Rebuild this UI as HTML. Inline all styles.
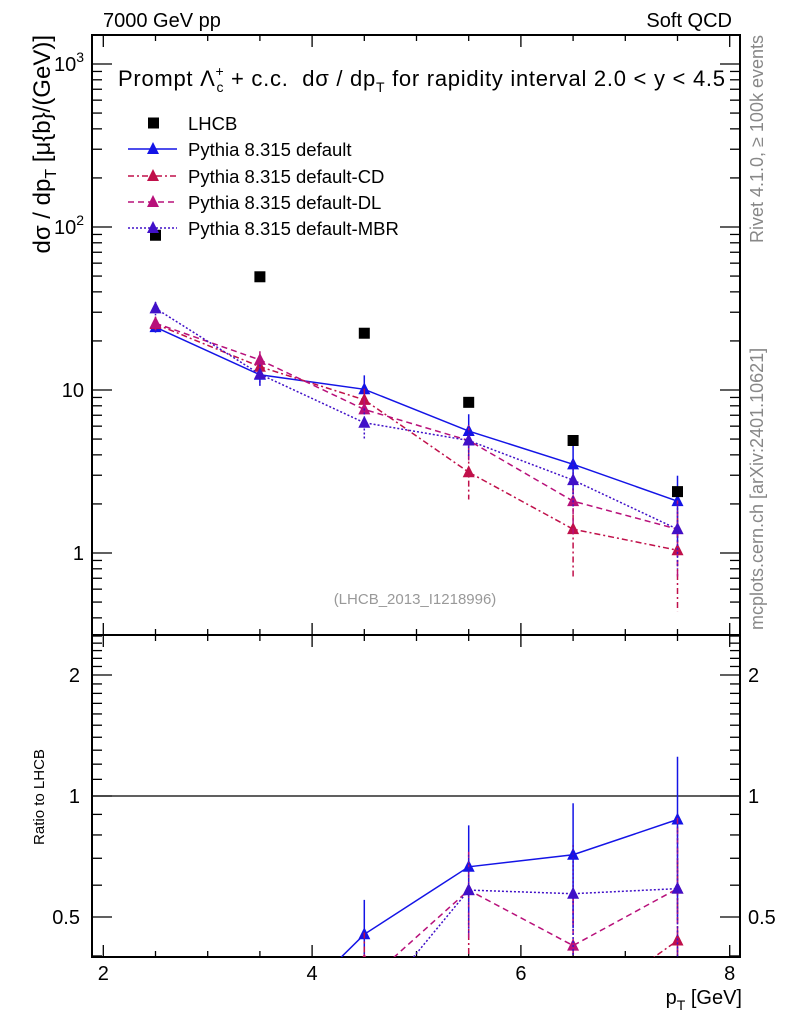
<!DOCTYPE html>
<html><head><meta charset="utf-8"><style>
html,body{margin:0;background:#fff;overflow:hidden;width:786px;height:1024px;}
svg{display:block;font-family:"Liberation Sans",sans-serif;}
</style></head><body>
<svg id="chart" width="786" height="1024" viewBox="0 0 786 1024" xmlns="http://www.w3.org/2000/svg">
<text x="103" y="27" font-size="20">7000 GeV pp</text>
<text x="732" y="27" font-size="20" text-anchor="end">Soft QCD</text>
<text x="118" y="86" font-size="22" xml:space="preserve" textLength="607">Prompt Λ<tspan font-size="14" dy="-10">+</tspan><tspan font-size="14" dx="-8" dy="16">c</tspan><tspan dy="-6"> + c.c.  dσ / dp</tspan><tspan font-size="14" dy="6">T</tspan><tspan dy="-6"> for rapidity interval 2.0 &lt; y &lt; 4.5</tspan></text>
<text transform="translate(50,35) rotate(-90)" font-size="24" text-anchor="end">dσ / dp<tspan font-size="16" dy="6">T</tspan><tspan dy="-6">  [μ{b}/(GeV)]</tspan></text>
<text transform="translate(44,797) rotate(-90)" font-size="15" text-anchor="middle">Ratio to LHCB</text>
<text x="742" y="1004" font-size="20" text-anchor="end">p<tspan font-size="14" dy="6">T</tspan><tspan dy="-6"> [GeV]</tspan></text>
<text transform="translate(763,35) rotate(-90)" font-size="18" fill="#888" text-anchor="end">Rivet 4.1.0, ≥ 100k events</text>
<text transform="translate(763,630) rotate(-90)" font-size="18" fill="#888">mcplots.cern.ch [arXiv:2401.10621]</text>
<text x="415" y="604" font-size="15" fill="#999" text-anchor="middle">(LHCB_2013_I1218996)</text>
<g id="axes"></g>
<g id="marks"></g>
<g id="legend"></g>
</svg>
<script>
const xCats = [2.5, 3.5, 4.5, 5.5, 6.5, 7.5];
const lhcb = [89, 49.5, 22.3, 8.4, 4.9, 2.38];
const pyDefault = [24.3, 12.4, 10.1, 5.6, 3.5, 2.08];
const pyDefaultErr = [1.8, 1.8, 2.2, 1.5, 1.2, 0.9];
const pyCD = [25.4, 13.9, 8.7, 3.13, 1.40, 1.04];
const pyCDErr = [2.5, 2.0, 1.5, 1.0, 0.7, 0.6];
const pyDL = [25.7, 15.3, 7.6, 4.9, 2.08, 1.40];
const pyDLErr = [2.5, 2.0, 1.4, 1.2, 0.8, 0.7];
const pyMBR = [31.7, 12.5, 6.3, 4.9, 2.8, 1.40];
const pyMBRErr = [3.0, 1.8, 1.4, 1.1, 0.9, 0.6];
const mainTickLabels = ["1", "10", "10²", "10³"];
const ratioTickVals = [0.5, 1, 2];
const xTickLabels = [2, 4, 6, 8];

const NS = "http://www.w3.org/2000/svg";
const L = 92, R = 740, MT = 35, MB = 635, RT = 635, RB = 957;
function X(v){ return 155.5 + (v - 2.5) * 104.4; }
function Y(v){ return 553 - 163 * Math.log10(v); }
function YR(r){ return 796 - 402 * Math.log10(r); }
function mk(tag, attrs, parent){ const e = document.createElementNS(NS, tag); for (const k in attrs) e.setAttribute(k, attrs[k]); parent.appendChild(e); return e; }
const axes = document.getElementById('axes'), marks = document.getElementById('marks'), legend = document.getElementById('legend');

let f1 = mk('rect', {x:L, y:MT, width:R-L, height:MB-MT, fill:'none', stroke:'#000', 'stroke-width':2}, axes);


let f2 = mk('rect', {x:L, y:RT, width:R-L, height:RB-RT, fill:'none', stroke:'#000', 'stroke-width':2}, axes);



for (let v = 2; v <= 8.001; v += 0.5) {
  const x = X(v), major = Math.abs(v - Math.round(v/2)*2) < 1e-6;
  const len = major ? 12 : 6;
  for (const [y0, d] of [[MB, -1], [MT, 1], [RB, -1], [RT, 1]]) {
    const t = mk('line', {x1:x, x2:x, y1:y0, y2:y0 + d*len, stroke:'#000', 'stroke-width':1.3}, axes);
    
    
  }
}
xTickLabels.forEach(v => {
  const t = mk('text', {x:X(v), y:980, 'font-size':20, 'text-anchor':'middle'}, axes);
  t.textContent = v;
  
  
});

for (let d = -1; d <= 3; d++) {
  for (let m = 1; m <= 9; m++) {
    const v = m * Math.pow(10, d), y = Y(v);
    if (y < MT || y > MB) continue;
    const len = m === 1 ? 20 : 10;
    for (const [x0, s] of [[L, 1], [R, -1]]) {
      const t = mk('line', {x1:x0, x2:x0 + s*len, y1:y, y2:y, stroke:'#000', 'stroke-width':1.3}, axes);
      
      
    }
  }
}
mainTickLabels.forEach((lab, i) => {
  const t = mk('text', {x:84, y:Y(Math.pow(10, i)) + 7, 'font-size':20, 'text-anchor':'end'}, axes);
  if (i >= 2) { t.textContent = '10'; const s = mk('tspan', {'font-size':14, dy:-9}, t); s.textContent = String(i); }
  else t.textContent = lab;
  
  
});

for (let v = 0.4; v <= 2.5001; v += 0.1) {
  const y = YR(v); if (y < RT || y > RB) continue;
  const isMaj = [0.5, 1, 2].some(q => Math.abs(q - v) < 1e-6);
  const len = isMaj ? 20 : 10;
  for (const [x0, s] of [[L, 1], [R, -1]]) {
    const t = mk('line', {x1:x0, x2:x0 + s*len, y1:y, y2:y, stroke:'#000', 'stroke-width':1.3}, axes);
    
    
  }
}
ratioTickVals.forEach(v => {
  for (const [x, a] of [[80, 'end'], [748, 'start']]) {
    const t = mk('text', {x:x, y:YR(v) + 7, 'font-size':20, 'text-anchor':a}, axes);
    t.textContent = v;
    
    
  }
});
const one = mk('line', {x1:L, x2:R, y1:YR(1), y2:YR(1), stroke:'#000', 'stroke-width':1.3}, axes);



const series = [
  {name:'default', vals:pyDefault, err:pyDefaultErr, color:'#1414e6', dash:'', label:'Pythia 8.315 default'},
  {name:'default-cd', vals:pyCD, err:pyCDErr, color:'#c0104a', dash:'6 3 2 3', label:'Pythia 8.315 default-CD'},
  {name:'default-dl', vals:pyDL, err:pyDLErr, color:'#b8107a', dash:'6 4', label:'Pythia 8.315 default-DL'},
  {name:'default-mbr', vals:pyMBR, err:pyMBRErr, color:'#4010c8', dash:'2 2', label:'Pythia 8.315 default-MBR'}
];

const defs = mk('defs', {}, marks);
const cp = mk('clipPath', {id:'rclip'}, defs);
mk('rect', {x:L, y:RT, width:R-L, height:RB-RT}, cp);
const rg = mk('g', {'clip-path':'url(#rclip)'}, marks);

function tri(x, y, c, parent){ return mk('polygon', {points:`${x},${y-7} ${x-6},${y+5} ${x+6},${y+5}`, fill:c}, parent); }

series.forEach(s => {
  const pts = s.vals.map((v, i) => `${X(xCats[i])},${Y(v)}`).join(' ');
  const pl = mk('polyline', {points:pts, fill:'none', stroke:s.color, 'stroke-width':1.5, 'stroke-dasharray':s.dash}, marks);
  
  
  const rpts = s.vals.map((v, i) => `${X(xCats[i])},${YR(v / lhcb[i])}`).join(' ');
  const rl = mk('polyline', {points:rpts, fill:'none', stroke:s.color, 'stroke-width':1.5, 'stroke-dasharray':s.dash}, rg);
  
  
  s.vals.forEach((v, i) => {
    const x = X(xCats[i]);
    const eb = mk('line', {x1:x, x2:x, y1:Y(v + s.err[i]), y2:Y(Math.max(v - s.err[i], 0.01)), stroke:s.color, 'stroke-width':1.5, 'stroke-dasharray':s.dash}, marks);
    
    
    const p = tri(x, Y(v), s.color, marks);
    
    
    const r = v / lhcb[i], re = s.err[i] / lhcb[i];
    const reb = mk('line', {x1:x, x2:x, y1:YR(r + re), y2:YR(Math.max(r - re, 0.01)), stroke:s.color, 'stroke-width':1.5, 'stroke-dasharray':s.dash}, rg);
    
    
    const rp = tri(x, YR(r), s.color, rg);
    
    
  });
});
lhcb.forEach((v, i) => {
  const sq = mk('rect', {x:X(xCats[i]) - 5.5, y:Y(v) - 5.5, width:11, height:11, fill:'#000'}, marks);
  
  
});

const ly = [123, 149, 176, 202, 228];
const ls = mk('rect', {x:148, y:ly[0] - 5.5, width:11, height:11, fill:'#000'}, legend);


const lt0 = mk('text', {x:188, y:ly[0] + 7, 'font-size':18.5}, legend);
lt0.textContent = 'LHCB';


series.forEach((s, k) => {
  const y = ly[k + 1];
  const l = mk('line', {x1:128, x2:177, y1:y, y2:y, stroke:s.color, 'stroke-width':1.5, 'stroke-dasharray':s.dash}, legend);
  
  
  const m = tri(153, y, s.color, legend);
  
  
  const t = mk('text', {x:188, y:y + 7, 'font-size':18.5}, legend);
  t.textContent = s.label;
  
  
});
</script>
</body></html>
